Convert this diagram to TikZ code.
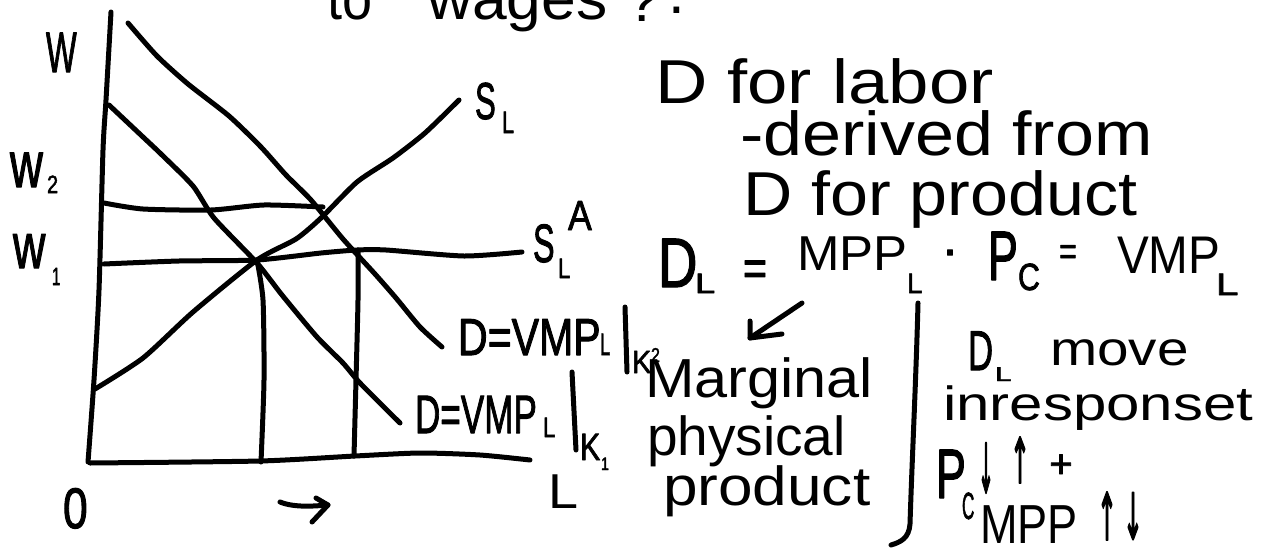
\documentclass[tikz,border=0pt]{standalone}
\usepackage{fontspec}
\setmainfont{Liberation Sans}
\newfontfamily\symfont{DejaVu Sans}
\newcommand{\hw}[3]{{\fontsize{#1pt}{#1pt}\selectfont\scalebox{#2}[1]{#3}}}
\newcommand{\hwb}[3]{{\fontsize{#1pt}{#1pt}\selectfont\addfontfeature{FakeBold=2}\scalebox{#2}[1]{#3}}}
\newcommand{\fitglyph}[3]{\resizebox*{#1pt}{#2pt}{\symfont\addfontfeature{FakeBold=3}#3}}
\begin{document}
\begin{tikzpicture}[x=1pt,y=-1pt,line cap=round,line join=round,
  ink/.style={draw=black,line width=5pt},
  txt/.style={anchor=base west,inner sep=0pt,outer sep=0pt},
  ctxt/.style={anchor=center,inner sep=0pt,outer sep=0pt}]
\useasboundingbox (0,0) rectangle (1273,551);
\fill[white] (0,0) rectangle (1273,551);
% ---------- axes ----------
\draw[ink] plot[smooth,tension=0.4] coordinates {(111,12) (106,100) (103,150) (99,290) (94,380) (88,462)};
\draw[ink] plot[smooth,tension=0.4] coordinates {(90,463) (260,461) (355,456) (420,453) (480,455) (530,460)};
% ---------- demand curves ----------
\draw[ink] plot[smooth,tension=0.4] coordinates {(128,23) (157,56) (188,84) (229,116) (261,147) (286,175) (311,200) (343,239) (375,274) (396,298) (420,327) (442,347)};
\draw[ink] plot[smooth,tension=0.4] coordinates {(109,105) (143,137) (161,154) (193,186) (214,218) (257,263) (282,295) (317,337) (343,363) (360,383) (400,423)};
% ---------- supply curve ----------
\draw[ink] plot[smooth,tension=0.4] coordinates {(95,389) (143,358) (193,312) (257,260) (296,239) (321,218) (357,182) (393,158) (425,133) (459,100)};
% ---------- wage lines ----------
\draw[ink] plot[smooth,tension=0.4] coordinates {(104,203) (143,209) (211,210) (264,205) (323,207)};
\draw[ink] plot[smooth,tension=0.4] coordinates {(104,264) (179,261) (257,260) (321,253) (357,250) (386,250) (464,256) (522,252)};
% ---------- quantity drops ----------
\draw[ink] plot[smooth,tension=0.4] coordinates {(257,260) (263,300) (264,380) (261,462)};
\draw[ink] plot[smooth,tension=0.4] coordinates {(358,250) (358,300) (356,380) (354,456)};
% ---------- title (cut) ----------
\node[txt] (tTo) at (327,20) {\hw{60}{0.9}{to}};
\node[txt] (tWages) at (427,20) {\hw{60}{1.04}{wages}};
\node[txt] (tQ) at (626,22) {\hw{60}{1}{?}};
\node[txt] (tDot) at (668,14) {\hw{60}{1}{.}};
% ---------- axis labels ----------
\node[txt] (lW) at (46,72) {\hwb{57}{0.57}{W}};
\node[txt] (lw2) at (10,187) {\hwb{65}{0.7}{w}};
\node[txt] (l2) at (47,193) {\hwb{25}{0.8}{2}};
\node[txt] (lw1) at (13,268) {\hwb{64}{0.7}{w}};
\node[txt] (l1) at (52,285) {\hwb{25}{0.6}{1}};
\node[txt] (lO) at (63,528) {\hwb{57}{0.78}{0}};
\node[txt] (lL) at (548,508) {\hw{49}{1.1}{L}};
\node[txt] (lS) at (475,119) {\hwb{52}{0.6}{S}};
\node[txt] (lSsub) at (502,133) {\hwb{31}{0.7}{L}};
\node[txt] (lSA) at (533,262) {\hwb{54}{0.6}{S}};
\node[txt] (lSAsub) at (558,278) {\hwb{28}{0.8}{L}};
\node[txt] (lSAsup) at (568,230) {\hwb{42}{0.85}{A}};
% ---------- demand labels ----------
\node[txt] (dTwo) at (458,355) {\hwb{52}{0.79}{D=VMP}};
\node[txt] (dTwoL) at (600,355) {\hwb{31}{0.6}{L}};
\draw[ink] (625,307) -- (627,372);
\node[txt] (dTwoK) at (632,373) {\hwb{32}{0.9}{K}};
\node[txt] (dTwoK2) at (651,362) {\hwb{20}{0.8}{2}};
\node[txt] (dOne) at (415,433) {\hwb{54}{0.65}{D=VMP}};
\node[txt] (dOneL) at (543,437) {\hwb{28}{0.8}{L}};
\draw[ink] (572,372) -- (576,450);
\node[txt] (dOneK) at (580,460) {\hwb{38}{0.8}{K}};
\node[txt] (dOne1) at (601,470) {\hwb{18}{0.8}{1}};
% ---------- shift arrow ----------
\draw[ink] (280,502) .. controls (295,508) and (315,506) .. (328,505);
\draw[ink] (316,498) -- (328,505) -- (312,522);
% ---------- right text ----------
\node[txt] (tLab) at (655,103) {\hw{62}{1.17}{D for labor}};
\node[txt] (tDer) at (740,155) {\hw{62}{1.13}{-derived from}};
\node[txt] (tDprod) at (743,215) {\hw{62}{1.1}{D for product}};
\node[txt] (eD) at (658,287) {\hwb{70}{0.78}{D}};
\node[txt] (eDL) at (695,293) {\hwb{28}{1.3}{L}};
\node[ctxt] (eEq1) at (755,273) {\hwb{50}{0.83}{=}};
\node[txt] (eMPP) at (797,270) {\hw{49}{1.04}{MPP}};
\node[txt] (eMPPL) at (907,293) {\hwb{28}{1.0}{L}};
\node[ctxt] (eDot) at (950,258) {\hwb{50}{1}{·}};
\node[txt] (eP) at (988,280) {\hwb{70}{0.64}{P}};
\node[txt] (ePC) at (1018,290) {\hwb{38}{0.8}{C}};
\node[ctxt] (eEq2) at (1068,255) {\hwb{40}{0.75}{=}};
\node[txt] (eVMP) at (1117,273) {\hw{53}{0.9}{VMP}};
\node[txt] (eVMPL) at (1216,295) {\hwb{31}{1.3}{L}};
% ---------- derived arrow ----------
\draw[ink] (802,303) -- (750,338);
\draw[ink] (750,321) -- (750,338) -- (782,334);
% ---------- marginal physical product ----------
\node[txt] (tMarg) at (645,397) {\hw{55}{1.08}{Marginal}};
\node[txt] (tPhys) at (647,455) {\hw{55}{1.0}{physical}};
\node[txt] (tProd) at (663,505) {\hw{55}{1.13}{product}};
% ---------- bracket ----------
\draw[ink] (918,303) .. controls (916,380) and (912,460) .. (910,524) .. controls (909,538) and (901,542) .. (891,545);
% ---------- D_L move text ----------
\node[txt] (tDLD) at (968,370) {\hwb{56}{0.62}{D}};
\node[txt] (tDLL) at (995,381) {\hwb{20}{1.5}{L}};
\node[txt] (tMove) at (1050,365) {\hw{48}{1.18}{move}};
\node[txt] (tResp) at (943,420) {\hw{48}{1.25}{inresponset}};
\node[txt] (tPc) at (936,498) {\hwb{70}{0.64}{P}};
\node[txt] (tPcC) at (962,519) {\hwb{38}{0.45}{C}};
\node[ctxt] (tDown1) at (986,468) {\fitglyph{16}{50}{↓}};
\node[ctxt] (tUp1) at (1020,460) {\fitglyph{20}{46}{↑}};
\node[ctxt] (tPlus) at (1061,466) {\hwb{40}{1}{+}};
\node[txt] (tMPP) at (980,543) {\hw{55}{0.82}{MPP}};
\node[ctxt] (tUp2) at (1107,516) {\fitglyph{20}{48}{↑}};
\node[ctxt] (tDown2) at (1133,516) {\fitglyph{20}{47}{↓}};
\end{tikzpicture}
\end{document}
